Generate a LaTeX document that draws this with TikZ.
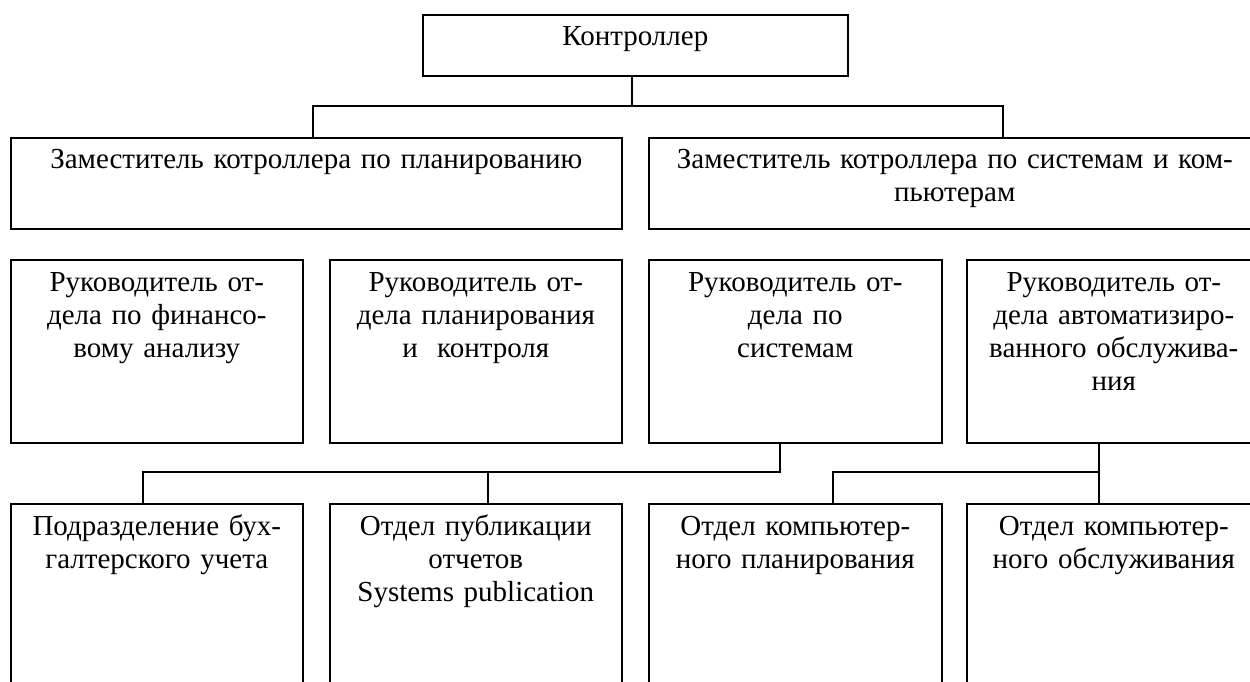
\documentclass[tikz,border=0pt]{standalone}
\usepackage{fontspec}
\setmainfont{Liberation Serif}
\begin{document}
\begin{tikzpicture}[x=1pt,y=-1pt,
  box/.style={draw, line width=1.6pt, inner sep=0pt, anchor=north west},
  txt/.style={inner sep=0pt, anchor=north, align=center, font=\fontsize{29}{33}\selectfont},
  conn/.style={line width=1.8pt}]
\clip (0,0) rectangle (1250,681);
% top
\node[box, minimum width=425pt, minimum height=61pt] (ctl) at (422,14) {};
\node[txt, text width=420pt] (ctlt) at ([yshift=-8pt]ctl.north) {\strut Контроллер};
% row 1
\node[box, minimum width=611pt, minimum height=91pt] (z1) at (10,137) {};
\node[box, minimum width=612pt, minimum height=91pt] (z2) at (648,137) {};
\node[txt, text width=600pt] (z1t) at ([yshift=-8pt]z1.north) {\strut Заместитель котроллера по планированию};
\node[txt, text width=600pt] (z2t) at ([yshift=-8pt]z2.north) {\strut Заместитель котроллера по системам и ком-\\пьютерам};
% row 2
\node[box, minimum width=292pt, minimum height=183pt] (r1) at (10,259) {};
\node[box, minimum width=292pt, minimum height=183pt] (r2) at (329,259) {};
\node[box, minimum width=293pt, minimum height=183pt] (r3) at (648,259) {};
\node[box, minimum width=294pt, minimum height=183pt] (r4) at (966,259) {};
\node[txt, text width=290pt] (r1t) at ([yshift=-9pt]r1.north) {\strut Руководитель от-\\дела по финансо-\\вому анализу};
\node[txt, text width=290pt] (r2t) at ([yshift=-9pt]r2.north) {\strut Руководитель от-\\дела планирования\\и\ \ контроля};
\node[txt, text width=290pt] (r3t) at ([yshift=-9pt]r3.north) {\strut Руководитель от-\\дела по\\системам};
\node[txt, text width=290pt] (r4t) at ([yshift=-9pt]r4.north) {\strut Руководитель от-\\дела автоматизиро-\\ванного обслужива-\\ния};
% row 3
\node[box, minimum width=292pt, minimum height=220pt] (d1) at (10,503) {};
\node[box, minimum width=292pt, minimum height=220pt] (d2) at (329,503) {};
\node[box, minimum width=293pt, minimum height=220pt] (d3) at (648,503) {};
\node[box, minimum width=294pt, minimum height=220pt] (d4) at (966,503) {};
\node[txt, text width=290pt] (d1t) at ([yshift=-9pt]d1.north) {\strut Подразделение бух-\\галтерского учета};
\node[txt, text width=290pt] (d2t) at ([yshift=-9pt]d2.north) {\strut Отдел публикации\\отчетов\\Systems publication};
\node[txt, text width=290pt] (d3t) at ([yshift=-9pt]d3.north) {\strut Отдел компьютер-\\ного планирования};
\node[txt, text width=290pt] (d4t) at ([yshift=-9pt]d4.north) {\strut Отдел компьютер-\\ного обслуживания};
% connectors
\coordinate (h0) at (632,106);
\coordinate (h1) at (313,106);
\coordinate (h2) at (1003,106);
\draw[conn] (ctl.south -| h0) -- (h0);
\draw[conn] (z1.north -| h1) -- (h1) -- (h2) -- (z2.north -| h2);
\coordinate (s3) at (780,472);
\coordinate (a1) at (143,472);
\coordinate (a2) at (488,472);
\draw[conn] (r3.south -| s3) -- (s3) -- (a1) -- (d1.north -| a1);
\draw[conn] (a2) -- (d2.north -| a2);
\coordinate (s4) at (1099,472);
\coordinate (b1) at (833,472);
\draw[conn] (r4.south -| s4) -- (d4.north -| s4);
\draw[conn] (s4) -- (b1) -- (d3.north -| b1);
\end{tikzpicture}
\end{document}
